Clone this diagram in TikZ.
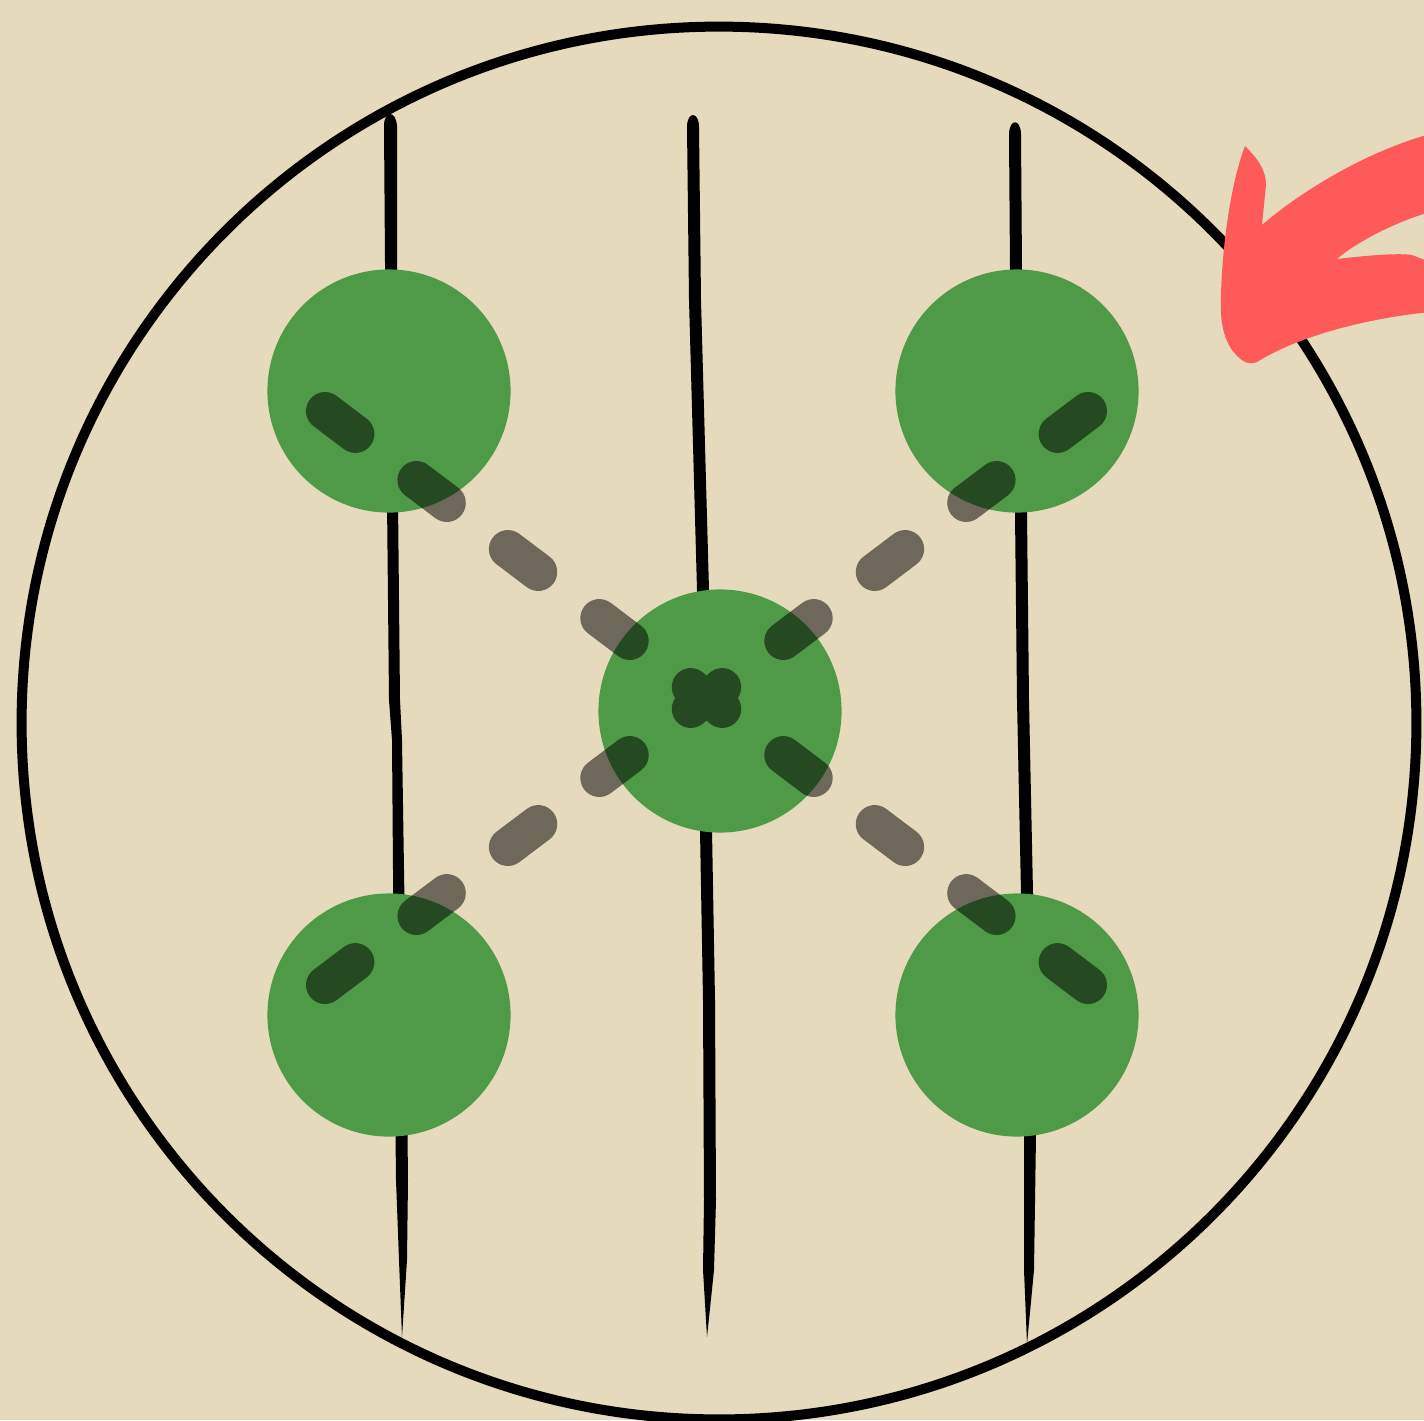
\documentclass[tikz,border=0pt]{standalone}
\usepackage{tikz}
\usetikzlibrary{positioning}
\definecolor{paperbeige}{RGB}{229,218,187}
\definecolor{ballgreen}{RGB}{78,154,70}
\definecolor{markred}{RGB}{255,90,90}
\tikzset{
  ballstyle/.style={circle, fill=ballgreen, minimum size=2.43cm, inner sep=0pt},
  dashstyle/.style={black, line width=0.38cm, line cap=round, dash pattern=on 0.38cm off 0.765cm},
  rimstyle/.style={draw=black, line width=0.1cm}
}

\begin{document}
\begin{tikzpicture}[x=0.01cm, y=-0.01cm]
  \fill[paperbeige] (0,0) rectangle (1424,1420);
  \useasboundingbox (0,0) rectangle (1424,1420);
  \clip (0,0) rectangle (1424,1420);
  \draw[rimstyle] (719,723) ellipse [x radius=6.97cm, y radius=6.96cm];
  \fill (384,126) .. controls (384,110) and (396,110) .. (397,126) -- (397,400) -- (400,700) -- (402,740)
    -- (406,1000) -- (408,1180) -- (407,1260) -- (402,1337) -- (399,1260) -- (396,1180) -- (394,1000)
    -- (392,740) -- (389,700) -- (386,400) -- cycle;
  \fill (687,127) .. controls (687,111) and (699,111) .. (699,127) -- (701,300) -- (709,590) -- (712,830)
    -- (715,1000) -- (716,1200) -- (714,1270) -- (707,1337) -- (703,1270) -- (704,1200) -- (703,1000)
    -- (700,830) -- (697,590) -- (689,300) -- cycle;
  \fill (1009,135) .. controls (1009,118) and (1021,118) .. (1021,135) -- (1022,270) -- (1027,513) -- (1029,700)
    -- (1033,893) -- (1036,1135) -- (1034,1270) -- (1027,1344) -- (1024,1270) -- (1024,1135) -- (1021,893)
    -- (1017,700) -- (1015,513) -- (1010,270) -- cycle;
  \node[ballstyle] (tl) at (389,391) {};
  \node[ballstyle] (tr) at (1017,391) {};
  \node[ballstyle] (bl) at (389,1015) {};
  \node[ballstyle] (br) at (1017,1015) {};
  \node[ballstyle] (mid) at (720,711) {};
  \coordinate (tla) at (325,411);
  \coordinate (tlb) at (692,688);
  \coordinate (tra) at (1088,411);
  \coordinate (trb) at (721,688);
  \coordinate (bla) at (325,985);
  \coordinate (blb) at (692,708);
  \coordinate (bra) at (1088,985);
  \coordinate (brb) at (721,708);
  \begin{scope}[transparency group, opacity=0.52]
    \draw[dashstyle] (tla) -- (tlb);
    \draw[dashstyle] (tra) -- (trb);
    \draw[dashstyle] (bla) -- (blb);
    \draw[dashstyle] (bra) -- (brb);
  \end{scope}
  \fill[markred] (1245,146) .. controls (1255,156) and (1266,168) .. (1266,185) -- (1262,225)
    .. controls (1300,192) and (1365,152) .. (1430,134) -- (1430,212)
    .. controls (1395,222) and (1355,243) .. (1337,259)
    .. controls (1370,255) and (1400,253) .. (1412,255) -- (1430,262) -- (1430,312)
    .. controls (1370,318) and (1300,335) .. (1257,362)
    .. controls (1247,366) and (1240,360) .. (1232,350)
    .. controls (1222,335) and (1220,318) .. (1221,295)
    .. controls (1222,250) and (1230,185) .. (1245,146) -- cycle;
\end{tikzpicture}
\end{document}
